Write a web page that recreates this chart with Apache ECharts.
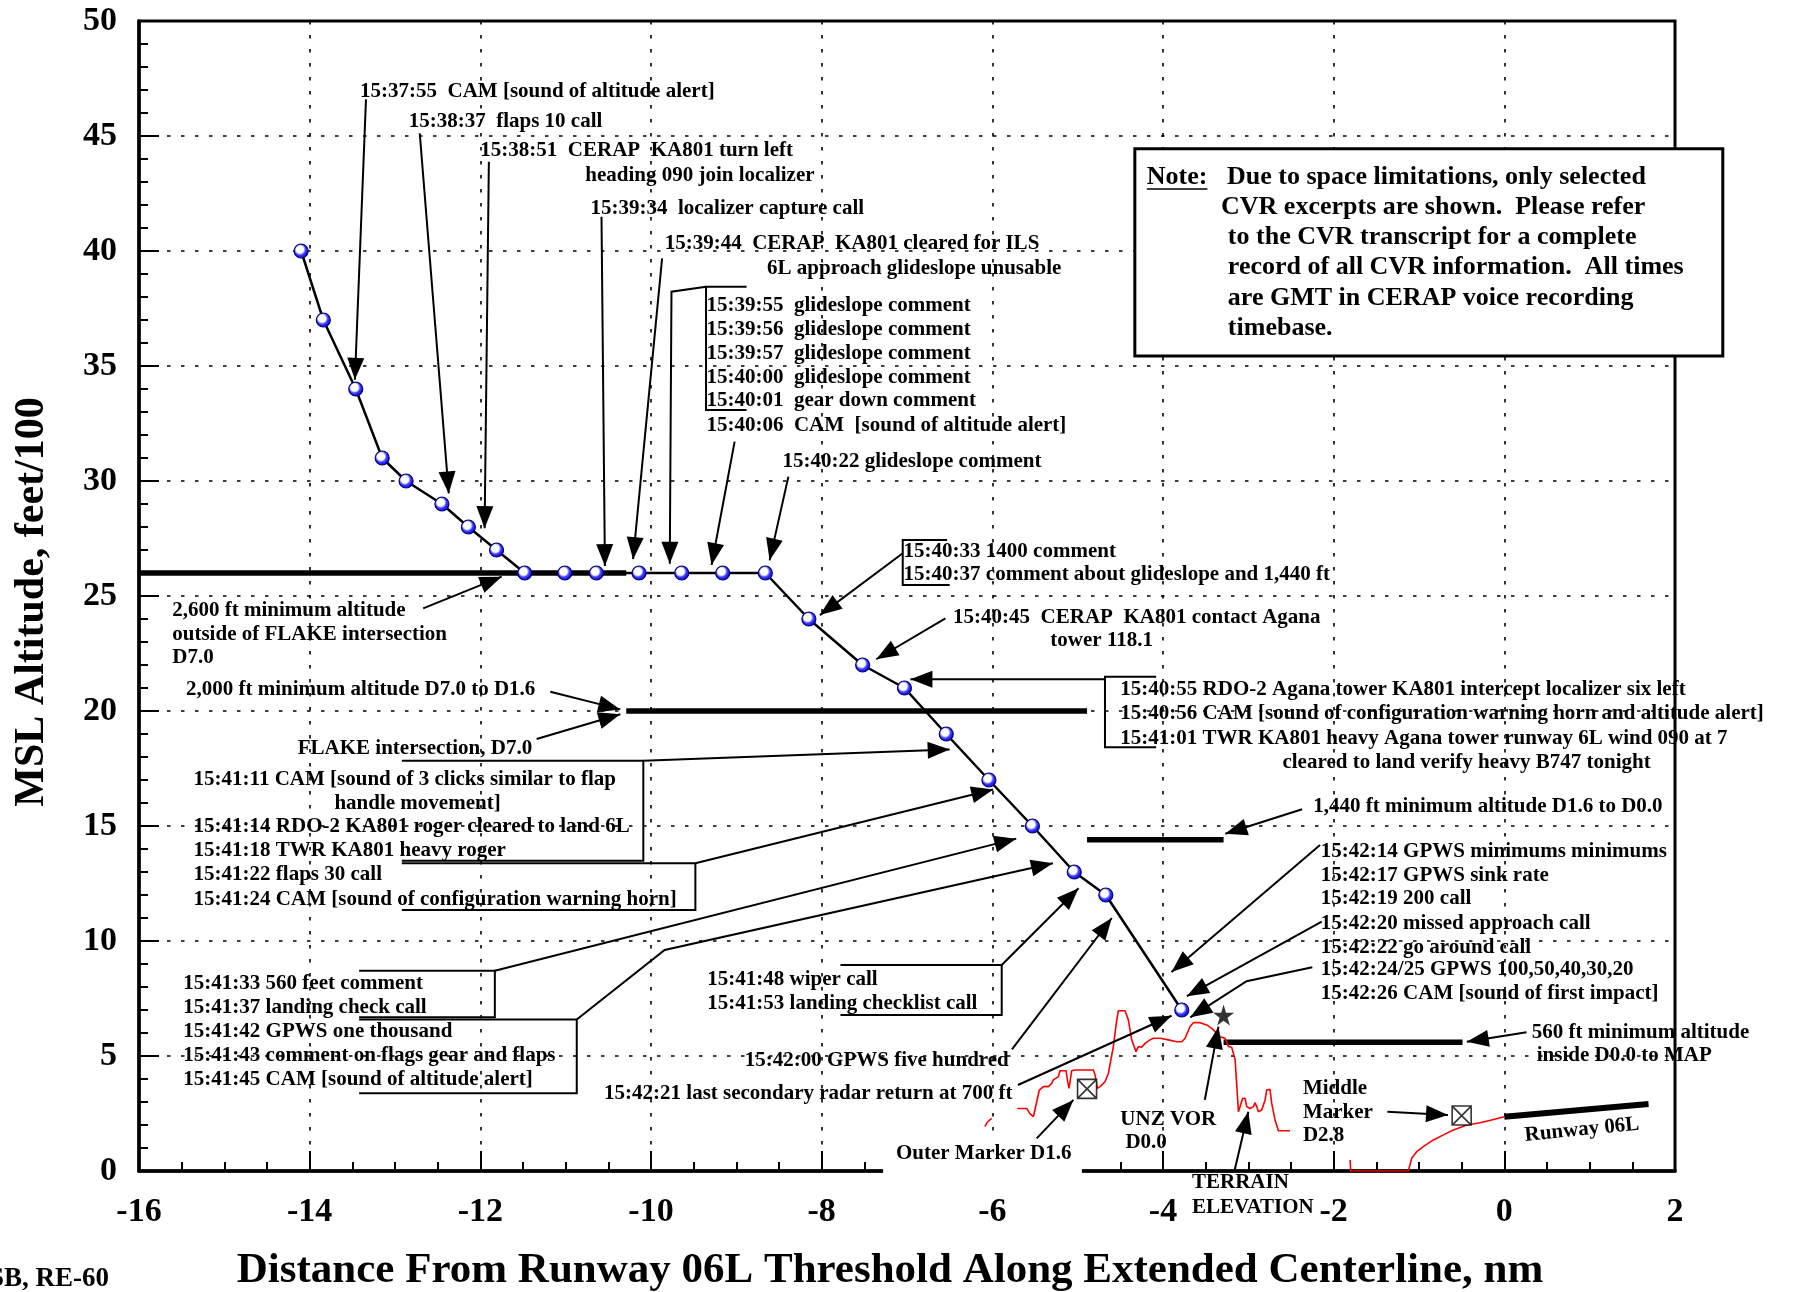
<!DOCTYPE html>
<html><head><meta charset="utf-8">
<script src="https://cdn.jsdelivr.net/npm/echarts@6/dist/echarts.min.js"></script>
<style>html,body{margin:0;padding:0;background:#fff}#c{width:1799px;height:1292px}</style>
</head><body><div id="c"></div>
<script>
const FONT = '"Liberation Serif", "Times New Roman", serif';
const AF = 'bold 21px ' + FONT;

// ---- data (distance from threshold nm, altitude feet/100) ----
const flightX = [-14.10, -13.84, -13.46, -13.15, -12.87, -12.45, -12.14, -11.81, -11.48, -11.01, -10.64, -10.14, -9.64, -9.16, -8.66, -8.15, -7.52, -7.03, -6.54, -6.04, -5.53, -5.04, -4.67, -3.78];
const flightAlt = [40, 37, 34, 31, 30, 29, 28, 27, 26, 26, 26, 26, 26, 26, 26, 24, 22, 21, 19, 17, 15, 13, 12, 7];

const minAltFeet = [2600, 2000, 1440, 560];
const minAltFrom = [-16, -10.29, -4.89, -3.29];
const minAltTo = [-10.29, -4.89, -3.29, -0.49];

const runwayX = [0, 1.69];
const runwayY = [2.36, 2.91];

const terrainWest = [[-6.086, 1.93], [-6.06, 2.12], [-6.008, 2.29]];
const terrainMid = [[-5.707,2.72],[-5.597,2.72],[-5.558,2.48],[-5.519,2.36],[-5.449,3.52],[-5.402,3.67],[-5.343,3.67],[-5.304,3.81],[-5.285,3.96],[-5.226,4.10],[-5.207,4.36],[-5.136,4.36],[-5.121,3.96],[-5.101,3.59],[-5.070,4.36],[-5.031,4.39],[-4.816,4.39],[-4.796,4.17],[-4.769,3.59],[-4.738,3.67],[-4.679,3.88],[-4.640,4.25],[-4.582,5.41],[-4.542,6.57],[-4.523,6.97],[-4.445,6.97],[-4.406,6.57],[-4.367,5.70],[-4.347,5.77],[-4.316,5.19],[-4.289,5.41],[-4.250,5.38],[-4.210,5.55],[-4.152,5.70],[-4.113,5.77],[-4.034,5.77],[-3.937,5.70],[-3.839,5.62],[-3.780,5.62],[-3.741,5.77],[-3.683,6.28],[-3.644,6.45],[-3.566,6.45],[-3.488,6.35],[-3.429,6.20],[-3.390,6.06],[-3.332,5.84],[-3.273,5.77],[-3.253,5.62],[-3.234,5.41],[-3.195,5.38],[-3.175,5.33],[-3.155,4.83],[-3.116,2.58],[-3.097,2.65],[-3.066,3.16],[-3.038,3.16],[-3.019,2.80],[-2.980,2.72],[-2.941,2.80],[-2.921,2.97],[-2.902,2.80],[-2.882,2.58],[-2.843,2.65],[-2.804,3.09],[-2.785,3.52],[-2.746,3.55],[-2.726,2.94],[-2.687,2.22],[-2.648,1.75],[-2.511,1.75]];
const terrainEast = [[-1.808,0.48],[-1.800,0],[-1.125,0],[-1.086,0.55],[-1.027,0.84],[-0.949,1.06],[-0.832,1.35],[-0.714,1.57],[-0.597,1.78],[-0.440,2.0],[-0.284,2.10],[-0.15,2.22],[0,2.36]];

const markerX = [-4.89, -0.50];
const markerY = [3.57, 2.41];
const vorX = [-3.29];
const vorY = [6.78];

const xTicks = [-16, -14, -12, -10, -8, -6, -4, -2, 0, 2];
const yTicks = [0, 5, 10, 15, 20, 25, 30, 35, 40, 45, 50];

// ---- annotation text (anchored in data units: left edge, line middle) ----
const labels = [
  ['15:37:55  CAM [sound of altitude alert]', -13.41, 46.93],
  ['15:38:37  flaps 10 call', -12.84, 45.62],
  ['15:38:51  CERAP  KA801 turn left', -12.00, 44.36],
  ['heading 090 join localizer', -10.77, 43.30],
  ['15:39:34  localizer capture call', -10.71, 41.86],
  ['15:39:44  CERAP  KA801 cleared for ILS', -9.84, 40.33],
  ['6L approach glideslope unusable', -8.64, 39.25],
  ['15:39:55  glideslope comment', -9.35, 37.61],
  ['15:39:56  glideslope comment', -9.35, 36.58],
  ['15:39:57  glideslope comment', -9.35, 35.55],
  ['15:40:00  glideslope comment', -9.35, 34.51],
  ['15:40:01  gear down comment', -9.35, 33.48],
  ['15:40:06  CAM  [sound of altitude alert]', -9.35, 32.43],
  ['15:40:22 glideslope comment', -8.46, 30.84],
  ['15:40:33 1400 comment', -7.04, 26.93],
  ['15:40:37 comment about glideslope and 1,440 ft', -7.04, 25.91],
  ['15:40:45  CERAP  KA801 contact Agana', -6.46, 24.07],
  ['tower 118.1', -5.32, 23.06],
  ['15:40:55 RDO-2 Agana tower KA801 intercept localizer six left', -4.50, 20.91],
  ['15:40:56 CAM [sound of configuration warning horn and altitude alert]', -4.50, 19.87],
  ['15:41:01 TWR KA801 heavy Agana tower runway 6L wind 090 at 7', -4.50, 18.81],
  ['cleared to land verify heavy B747 tonight', -2.60, 17.77],
  ['2,600 ft minimum altitude', -15.61, 24.36],
  ['outside of FLAKE intersection', -15.61, 23.33],
  ['D7.0', -15.61, 22.32],
  ['2,000 ft minimum altitude D7.0 to D1.6', -15.45, 20.94],
  ['FLAKE intersection, D7.0', -14.14, 18.38],
  ['15:41:11 CAM [sound of 3 clicks similar to flap', -15.36, 17.03],
  ['handle movement]', -13.71, 15.99],
  ['15:41:14 RDO-2 KA801 roger cleared to land 6L', -15.36, 14.97],
  ['15:41:18 TWR KA801 heavy roger', -15.36, 13.91],
  ['15:41:22 flaps 30 call', -15.36, 12.87],
  ['15:41:24 CAM [sound of configuration warning horn]', -15.36, 11.81],
  ['1,440 ft minimum altitude D1.6 to D0.0', -2.24, 15.84],
  ['15:42:14 GPWS minimums minimums', -2.15, 13.88],
  ['15:42:17 GPWS sink rate', -2.15, 12.84],
  ['15:42:19 200 call', -2.15, 11.83],
  ['15:42:20 missed approach call', -2.15, 10.77],
  ['15:42:22 go around call', -2.15, 9.73],
  ['15:42:24/25 GPWS 100,50,40,30,20', -2.15, 8.74],
  ['15:42:26 CAM [sound of first impact]', -2.15, 7.73],
  ['15:41:33 560 feet comment', -15.48, 8.16],
  ['15:41:37 landing check call', -15.48, 7.12],
  ['15:41:42 GPWS one thousand', -15.48, 6.06],
  ['15:41:43 comment on flags gear and flaps', -15.48, 5.0],
  ['15:41:45 CAM [sound of altitude alert]', -15.48, 3.96],
  ['15:41:48 wiper call', -9.34, 8.33],
  ['15:41:53 landing checklist call', -9.34, 7.29],
  ['15:42:00 GPWS five hundred', -8.90, 4.80],
  ['15:42:21 last secondary radar return at 700 ft', -10.55, 3.35],
  ['Outer Marker D1.6', -7.13, 0.77],
  ['UNZ VOR', -4.50, 2.25],
  ['D0.0', -4.44, 1.23],
  ['TERRAIN', -3.66, -0.51],
  ['ELEVATION', -3.66, -1.58],
  ['Middle', -2.36, 3.60],
  ['Marker', -2.36, 2.54],
  ['D2.8', -2.36, 1.52],
  ['560 ft minimum altitude', 0.32, 6.03],
  ['inside D0.0 to MAP', 0.38, 5.0]
];
const runwayLabel = ['Runway 06L', 0.91, 1.79];

const noteTitle = ['Note:', -4.19, 43.22];
const noteLines = [
  ['Due to space limitations, only selected', -3.25, 43.22],
  ['CVR excerpts are shown.  Please refer', -3.32, 41.92],
  ['to the CVR transcript for a complete', -3.24, 40.58],
  ['record of all CVR information.  All times', -3.24, 39.28],
  ['are GMT in CERAP voice recording', -3.24, 37.94],
  ['timebase.', -3.24, 36.64]
];
const noteBox = [[-4.33, 44.45], [2.56, 35.43]];

// leader lines (data units), arrow = filled head at the last point
const leaders = [
  [[[-13.34, 46.6], [-13.47, 34.4]], true],
  [[[-12.71, 45.12], [-12.37, 29.46]], true],
  [[[-11.90, 43.88], [-11.95, 27.95]], true],
  [[[-10.58, 41.49], [-10.54, 26.3]], true],
  [[[-9.87, 39.68], [-10.21, 26.6]], true],
  [[[-8.88, 38.45], [-9.355, 38.45], [-9.355, 33.09], [-8.88, 33.09]], false],
  [[[-9.355, 38.45], [-9.76, 38.23], [-9.78, 26.4]], true],
  [[[-9.02, 31.71], [-9.29, 26.35]], true],
  [[[-8.39, 30.19], [-8.61, 26.55]], true],
  [[[-6.53, 27.43], [-7.05, 27.43], [-7.05, 25.48], [-6.50, 25.48]], false],
  [[[-7.05, 26.86], [-8.02, 24.17]], true],
  [[[-6.55, 24.03], [-7.36, 22.25]], true],
  [[[-4.08, 21.49], [-4.68, 21.49], [-4.68, 18.42], [-4.08, 18.42]], false],
  [[[-4.68, 21.38], [-6.96, 21.38]], true],
  [[[-12.67, 24.46], [-11.75, 25.84]], true],
  [[[-11.18, 20.84], [-10.36, 20.07]], true],
  [[[-11.34, 18.78], [-10.36, 19.86]], true],
  [[[-12.92, 17.84], [-10.09, 17.84], [-10.09, 13.49], [-12.92, 13.49]], false],
  [[[-10.09, 17.84], [-6.50, 18.33]], true],
  [[[-12.92, 13.38], [-9.48, 13.38], [-9.48, 11.35], [-12.92, 11.35]], false],
  [[[-9.48, 13.38], [-5.99, 16.59]], true],
  [[[-13.42, 8.71], [-11.83, 8.71], [-11.83, 6.68], [-13.42, 6.68]], false],
  [[[-11.83, 8.71], [-5.72, 14.45]], true],
  [[[-13.42, 6.59], [-10.87, 6.59], [-10.87, 3.38], [-13.42, 3.38]], false],
  [[[-10.87, 6.59], [-9.84, 9.61], [-5.29, 13.38]], true],
  [[[-7.78, 8.96], [-5.89, 8.96], [-5.89, 6.78], [-7.78, 6.78]], false],
  [[[-5.89, 8.96], [-4.99, 12.29]], true],
  [[[-5.77, 5.29], [-4.60, 11.0]], true],
  [[[-5.70, 3.74], [-3.90, 6.75]], true],
  [[[-5.48, 1.42], [-5.05, 3.09]], true],
  [[[-3.51, 3.09], [-3.35, 6.27]], true],
  [[[-3.16, 0.04], [-3.0, 2.58]], true],
  [[[-1.37, 2.58], [-0.66, 2.43]], true],
  [[[-2.37, 15.73], [-3.27, 14.66]], true],
  [[[-2.16, 14.17], [-3.9, 8.65]], true],
  [[[-2.14, 10.84], [-3.72, 7.6]], true],
  [[[-2.25, 8.86], [-3.02, 8.25], [-3.68, 6.68]], true],
  [[[0.26, 6.03], [-0.44, 5.62]], true]
];
const axisCover = [[-7.28, 1.35], [-4.95, -0.2]];

// ---- build ----
const measureCtx = document.createElement('canvas').getContext('2d');
function textWidth(t, font) { measureCtx.font = font; return measureCtx.measureText(t).width; }

function txt(t, p, font, align, rot) {
  return {
    type: 'text', x: p[0], y: p[1], rotation: rot || 0,
    style: { text: t, font: font, fill: '#000', textAlign: align || 'left', textVerticalAlign: 'middle', align: align || 'left', verticalAlign: 'middle' }
  };
}

function renderAnnotations(params, api) {
  const P = p => api.coord(p);
  const ch = [];
  const a = P(axisCover[0]), b = P(axisCover[1]);
  ch.push({ type: 'rect', shape: { x: a[0], y: a[1], width: b[0] - a[0], height: b[1] - a[1] }, style: { fill: '#fff' } });
  leaders.forEach(([pts, arrow]) => {
    const px = pts.map(P);
    ch.push({ type: 'polyline', shape: { points: px }, style: { stroke: '#000', lineWidth: 2, fill: null } });
    if (arrow) {
      const t = px[px.length - 1], s = px[px.length - 2];
      let dx = t[0] - s[0], dy = t[1] - s[1];
      const L = Math.hypot(dx, dy); dx /= L; dy /= L;
      const len = 22, w = 8.5;
      const bx = t[0] - dx * len, by = t[1] - dy * len;
      ch.push({ type: 'polygon', shape: { points: [t, [bx - dy * w, by + dx * w], [bx + dy * w, by - dx * w]] }, style: { fill: '#000' } });
    }
  });
  labels.forEach(([t, x, y]) => ch.push(txt(t, P([x, y]), AF)));
  ch.push(txt(runwayLabel[0], P([runwayLabel[1], runwayLabel[2]]), AF, 'center', 0.1));
  // note
  const n1 = P(noteBox[0]), n2 = P(noteBox[1]);
  ch.push({ type: 'rect', shape: { x: n1[0], y: n1[1], width: n2[0] - n1[0], height: n2[1] - n1[1] }, style: { fill: '#fff', stroke: '#000', lineWidth: 3 } });
  const NF = 'bold 26px ' + FONT;
  const np = P([noteTitle[1], noteTitle[2]]);
  ch.push(txt(noteTitle[0], np, NF));
  const nw = textWidth(noteTitle[0], NF);
  ch.push({ type: 'line', shape: { x1: np[0], y1: np[1] + 12, x2: np[0] + nw, y2: np[1] + 12 }, style: { stroke: '#000', lineWidth: 1.5 } });
  noteLines.forEach(([t, x, y]) => ch.push(txt(t, P([x, y]), NF)));
  return { type: 'group', children: ch };
}

const minAltSeries = minAltFeet.map((f, i) => ({
  type: 'line', data: [[minAltFrom[i], f / 100], [minAltTo[i], f / 100]],
  symbol: 'none', lineStyle: { color: '#000', width: 5.5 }, z: 3, silent: true
}));
const terrainSeries = [terrainWest, terrainMid, terrainEast].map(d => ({
  type: 'line', data: d, symbol: 'none', lineStyle: { color: '#ff0000', width: 1.6 }, z: 3, silent: true
}));

const chart = echarts.init(document.getElementById('c'), null, { renderer: 'canvas' });
const option = {
  animation: false,
  backgroundColor: '#fff',
  grid: { left: 139, right: 124, top: 21, bottom: 121, show: true, borderColor: '#000', borderWidth: 3, backgroundColor: 'transparent' },
  xAxis: {
    type: 'value', min: xTicks[0], max: xTicks[xTicks.length - 1], interval: 2,
    axisLine: { show: true, onZero: false, lineStyle: { color: '#000', width: 3.5 } },
    axisTick: { show: true, inside: true, length: 20, lineStyle: { color: '#000', width: 2 } },
    minorTick: { show: true, splitNumber: 4, length: 9, lineStyle: { color: '#000', width: 2 } },
    axisLabel: { color: '#000', fontFamily: FONT, fontWeight: 'bold', fontSize: 34, margin: 24 },
    splitLine: { show: true, lineStyle: { color: '#000', width: 1.6, type: [3.5, 10.5] } }
  },
  yAxis: {
    type: 'value', min: yTicks[0], max: yTicks[yTicks.length - 1], interval: 5,
    axisLine: { show: true, onZero: false, lineStyle: { color: '#000', width: 3.5 } },
    axisTick: { show: true, inside: true, length: 20, lineStyle: { color: '#000', width: 2 } },
    minorTick: { show: true, splitNumber: 5, length: 9, lineStyle: { color: '#000', width: 2 } },
    axisLabel: { color: '#000', fontFamily: FONT, fontWeight: 'bold', fontSize: 34, margin: 22 },
    splitLine: { show: true, lineStyle: { color: '#000', width: 1.6, type: [3.5, 10.5] } }
  },
  graphic: [
    { type: 'text', x: 890, y: 1271, style: { text: 'Distance From Runway 06L Threshold Along Extended Centerline, nm', font: 'bold 43px ' + FONT, fill: '#000', textAlign: 'center', textVerticalAlign: 'middle', align: 'center', verticalAlign: 'middle' } },
    { type: 'text', x: 32, y: 602, rotation: Math.PI / 2, style: { text: 'MSL Altitude, feet/100', font: 'bold 42px ' + FONT, fill: '#000', textAlign: 'center', textVerticalAlign: 'middle', align: 'center', verticalAlign: 'middle' } },
    { type: 'text', x: 109, y: 1279, style: { text: 'NTSB, RE-60', font: 'bold 27px ' + FONT, fill: '#000', textAlign: 'right', textVerticalAlign: 'middle', align: 'right', verticalAlign: 'middle' } }
  ],
  series: [
    ...minAltSeries,
    { type: 'line', data: [[runwayX[0], runwayY[0]], [runwayX[1], runwayY[1]]], symbol: 'none', lineStyle: { color: '#000', width: 6 }, z: 3, silent: true },
    ...terrainSeries,
    { type: 'custom', renderItem: renderAnnotations, data: [[0, 0]], z: 4, silent: true, clip: false },
    {
      type: 'scatter', data: markerX.map((x, i) => [x, markerY[i]]), symbol: 'path://M0,0H20V20H0ZM0,0L20,20M20,0L0,20',
      symbolSize: 19, itemStyle: { color: '#fff', borderColor: '#000', borderWidth: 1.6 }, z: 5, silent: true
    },
    {
      type: 'scatter', data: vorX.map((x, i) => [x, vorY[i]]),
      symbol: 'path://M50,0L61,35L98,35L68,57L79,91L50,70L21,91L32,57L2,35L39,35Z',
      symbolSize: 21, itemStyle: { color: '#000' }, z: 5, silent: true
    },
    {
      type: 'line', data: flightX.map((x, i) => [x, flightAlt[i]]), z: 6, silent: true,
      lineStyle: { color: '#000', width: 2.5 }, symbol: 'circle', symbolSize: 14, showAllSymbol: true,
      itemStyle: {
        borderColor: '#00007a', borderWidth: 1.2,
        color: { type: 'radial', x: 0.42, y: 0.4, r: 0.6, colorStops: [{ offset: 0, color: '#ffffff' }, { offset: 0.4, color: '#ffffff' }, { offset: 0.62, color: '#4040ff' }, { offset: 1, color: '#0000dd' }] }
      }
    }
  ]
};
chart.setOption(option);
</script></body></html>
